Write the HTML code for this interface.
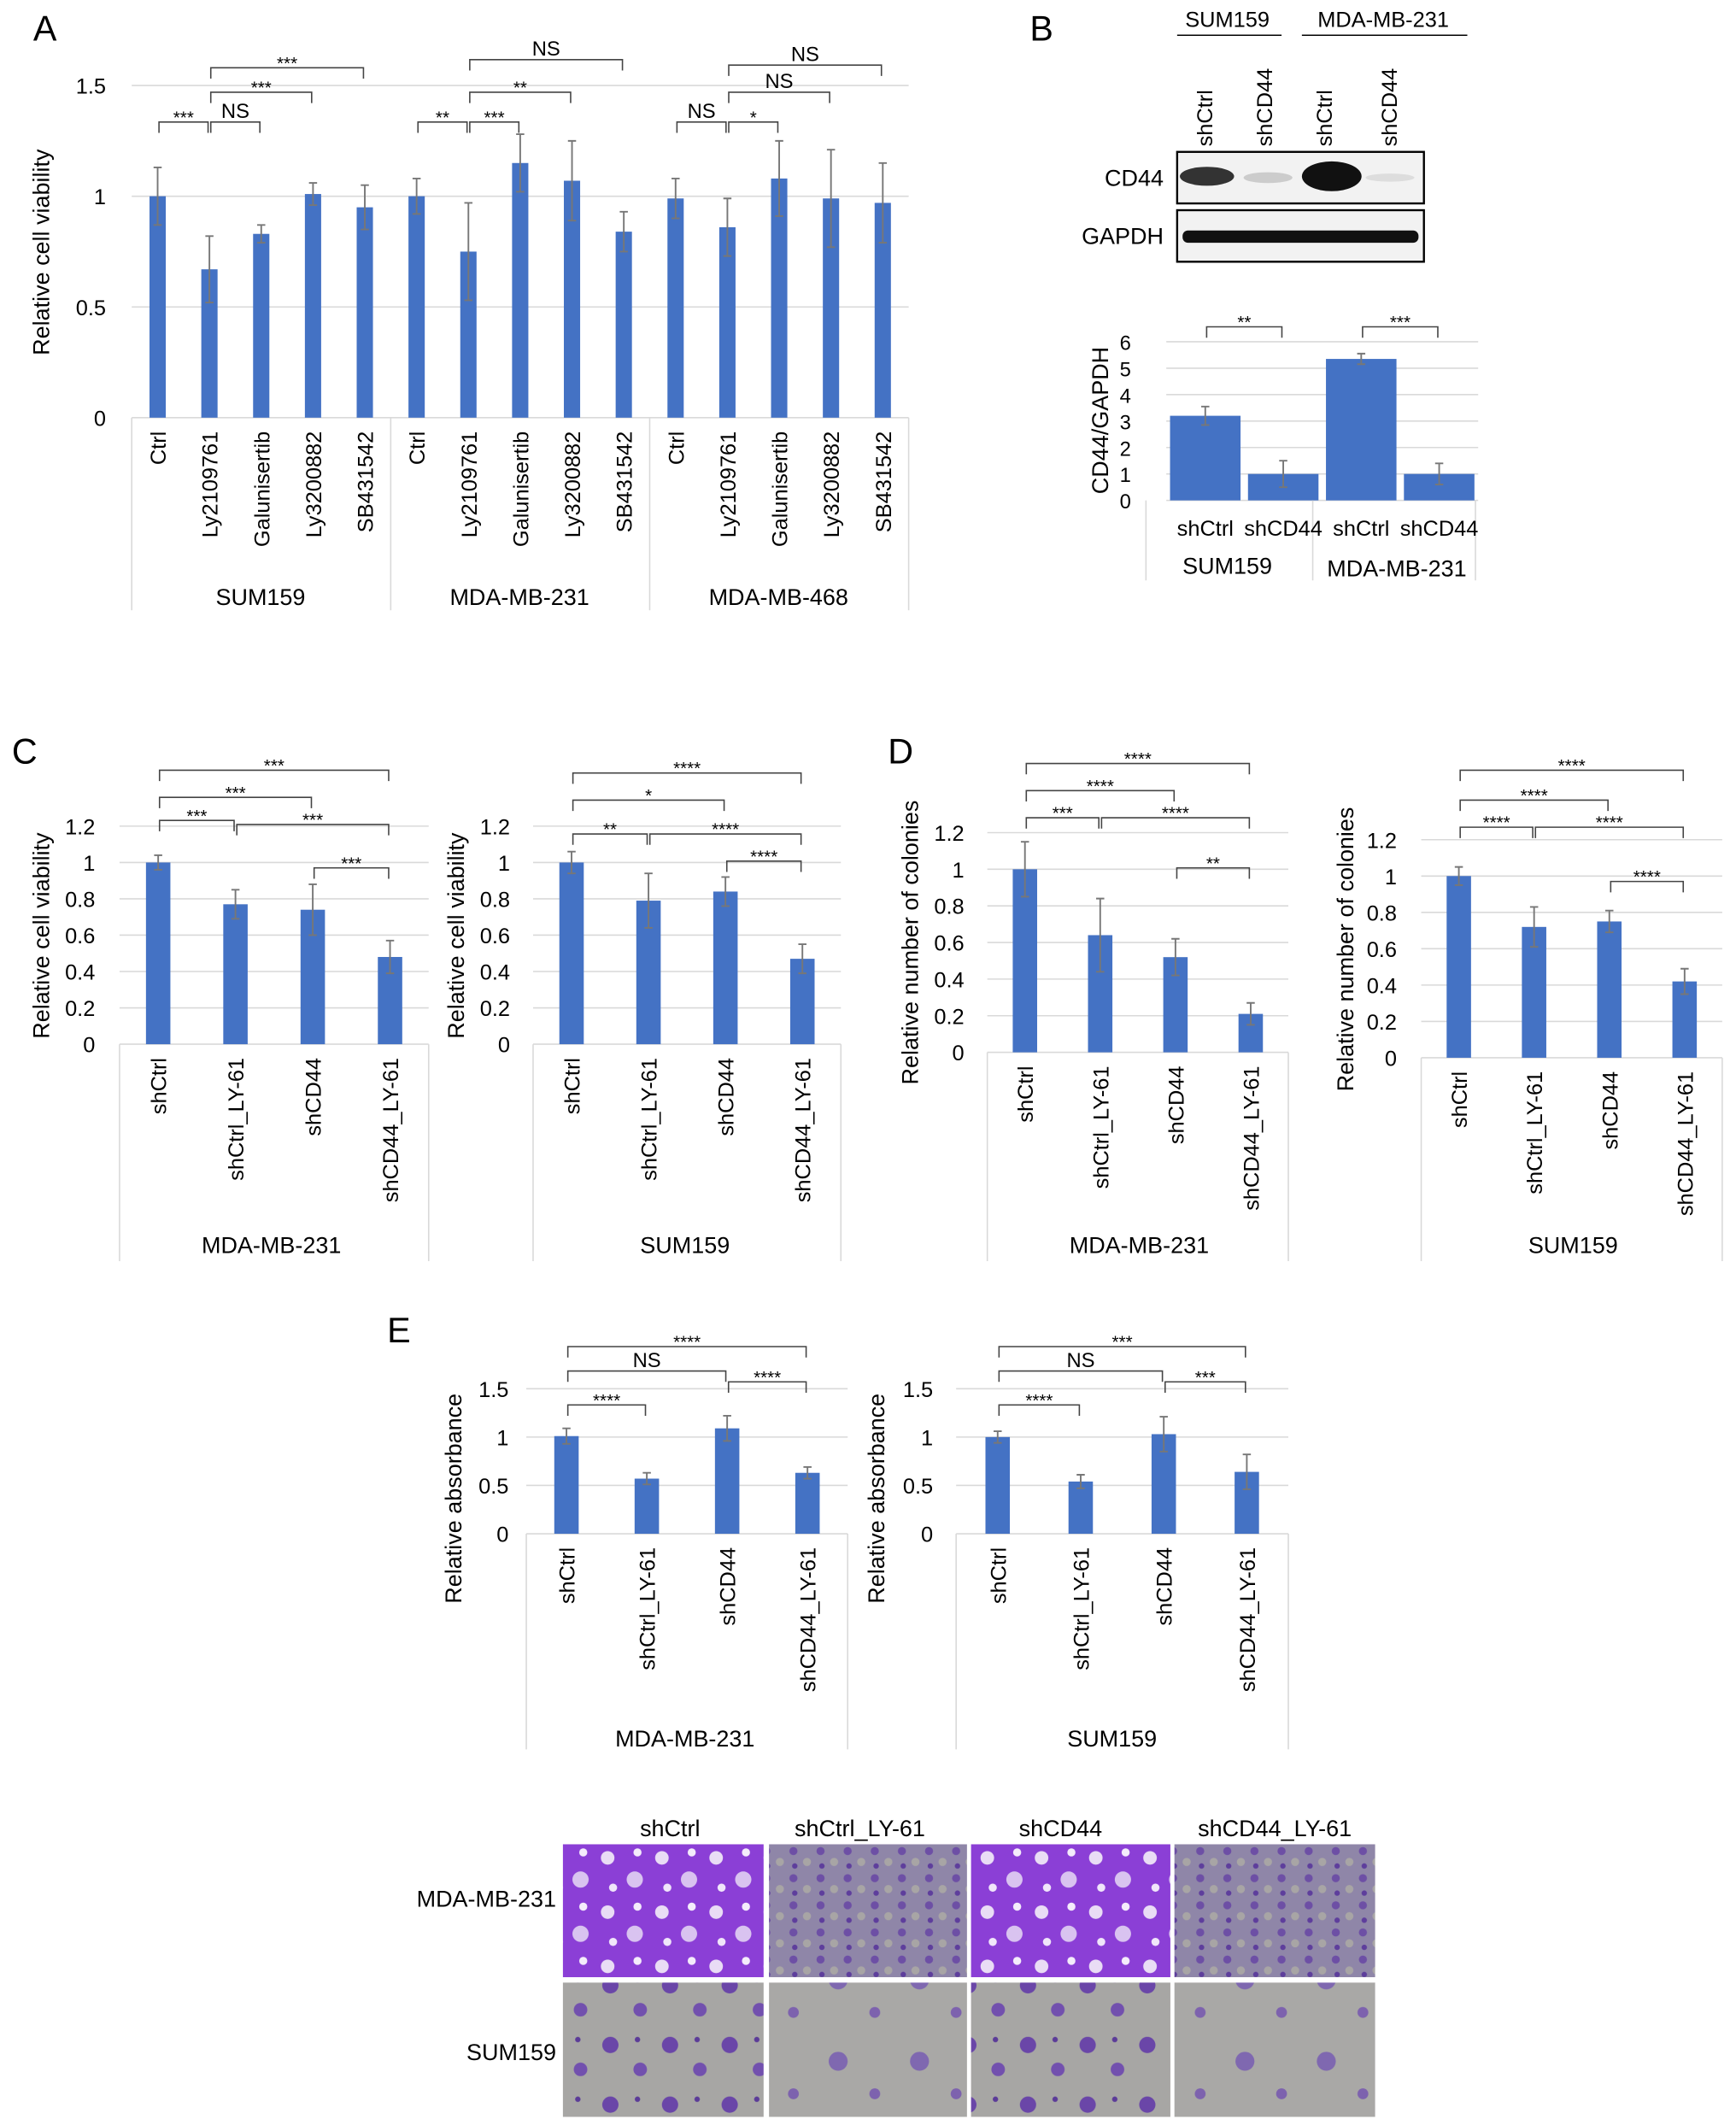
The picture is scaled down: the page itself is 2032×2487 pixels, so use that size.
<!DOCTYPE html>
<html><head><meta charset="utf-8"><style>
html,body{margin:0;padding:0;background:#fff}
svg{display:block;font-family:"Liberation Sans",sans-serif}
</style></head><body>
<svg id="fig" width="2032" height="2487" viewBox="0 0 1280 1567" xmlns="http://www.w3.org/2000/svg">
<defs>
<pattern id="pMda" width="40" height="40" patternUnits="userSpaceOnUse"><rect width="40" height="40" fill="#8b3fd6"/><circle cx="8" cy="10" r="5" fill="#e9dcf5"/><circle cx="28" cy="26" r="6" fill="#d9c3f0"/><circle cx="30" cy="6" r="3" fill="#f4ecfb"/><circle cx="12" cy="32" r="3" fill="#f0e6fa"/></pattern>
<pattern id="pMdaLy" width="20" height="20" patternUnits="userSpaceOnUse"><rect width="20" height="20" fill="#8f86a8"/><circle cx="5" cy="5" r="3" fill="#6d4fa5"/><circle cx="15" cy="13" r="3" fill="#a8a5a5"/><circle cx="6" cy="16" r="2" fill="#5e3e9c"/></pattern>
<pattern id="pSum" width="44" height="44" patternUnits="userSpaceOnUse"><rect width="44" height="44" fill="#a7a6a4"/><circle cx="10" cy="12" r="6" fill="#6a46a8"/><circle cx="32" cy="30" r="5" fill="#7250ae"/><circle cx="30" cy="8" r="2" fill="#5b3b98"/></pattern>
<pattern id="pSumLy" width="60" height="60" patternUnits="userSpaceOnUse"><rect width="60" height="60" fill="#a9a8a6"/><circle cx="18" cy="20" r="7" fill="#7f68b0"/><circle cx="45" cy="44" r="4" fill="#7d62ae"/></pattern>
</defs>
<g id="root"></g>
</svg>
<script>
// ---- Panel A data ----
const aCategories = ["Ctrl","Ly2109761","Galunisertib","Ly3200882","SB431542","Ctrl","Ly2109761","Galunisertib","Ly3200882","SB431542","Ctrl","Ly2109761","Galunisertib","Ly3200882","SB431542"];
const aValues = [1.0,0.67,0.83,1.01,0.95, 1.0,0.75,1.15,1.07,0.84, 0.99,0.86,1.08,0.99,0.97];
const aErrors = [0.13,0.15,0.04,0.05,0.1, 0.08,0.22,0.13,0.18,0.09, 0.09,0.13,0.17,0.22,0.18];
const aTicks = [0,0.5,1,1.5];
const aTickLabels = ["0","0.5","1","1.5"];
const aGroups = ["SUM159","MDA-MB-231","MDA-MB-468"];
// ---- Panel B data ----
const bCategories = ["shCtrl","shCD44","shCtrl","shCD44"];
const bValues = [3.2,1.0,5.35,1.0];
const bErrors = [0.35,0.5,0.2,0.4];
const bTicks = [0,1,2,3,4,5,6];
const bGroups = ["SUM159","MDA-MB-231"];
// ---- Panel C/D/E data ----
const shCategories = ["shCtrl","shCtrl_LY-61","shCD44","shCD44_LY-61"];
const cMdaValues = [1.0,0.77,0.74,0.48];
const cMdaErrors = [0.04,0.08,0.14,0.09];
const cSumValues = [1.0,0.79,0.84,0.47];
const cSumErrors = [0.06,0.15,0.08,0.08];
const dMdaValues = [1.0,0.64,0.52,0.21];
const dMdaErrors = [0.15,0.2,0.1,0.06];
const dSumValues = [1.0,0.72,0.75,0.42];
const dSumErrors = [0.05,0.11,0.06,0.07];
const eMdaValues = [1.01,0.57,1.09,0.63];
const eMdaErrors = [0.08,0.06,0.13,0.06];
const eSumValues = [1.0,0.54,1.03,0.64];
const eSumErrors = [0.06,0.07,0.18,0.18];
const cdTicks = [0,0.2,0.4,0.6,0.8,1,1.2];
const eTicks = [0,0.5,1,1.5];
const NS = "http://www.w3.org/2000/svg";
const root = document.getElementById('root');
function el(tag, attrs, parent, text){
  const e = document.createElementNS(NS, tag);
  for (const k in attrs) e.setAttribute(k, attrs[k]);
  if (text !== undefined) e.textContent = text;
  (parent||root).appendChild(e);
  return e;
}
function txt(x,y,s,size,anchor,parent,rot,name){
  const t = el('text',{x:x,y:y,'font-size':size,'text-anchor':anchor||'middle',fill:'#000'},parent,s);
  if (rot) t.setAttribute('transform','rotate(-90 '+x+' '+y+')');
  
  
  return t;
}
function chart(c){
  const g = el('g',{});
  
  
  const n = c.cats.length, step = (c.x1-c.x0)/n;
  const xc = i => c.x0 + (i+0.5)*step;
  const y = v => c.y0 - v*c.unit;
  c.ticks.forEach((t,i)=>{
    const gl = el('line',{x1:c.x0,x2:c.x1,y1:y(t),y2:y(t),stroke:'#d9d9d9','stroke-width':1},g);
    
    
    txt(c.tickX, y(t)+6, c.tickLabels?c.tickLabels[i]:String(t), c.fs||16, 'end', g, false, 'y-tick-label');
  });
  c.vals.forEach((v,i)=>{
    const b = el('rect',{x:xc(i)-c.bw/2,y:y(v),width:c.bw,height:v*c.unit,fill:'#4472c4'},g);
    
    
    const e = c.errs[i];
    const eb = el('path',{d:`M${xc(i)} ${y(v-e)}V${y(v+e)}M${xc(i)-3} ${y(v+e)}H${xc(i)+3}M${xc(i)-3} ${y(v-e)}H${xc(i)+3}`,stroke:'#777','stroke-width':1.2,fill:'none'},g);
    
    
  });
  // separators
  const seps = c.seps;
  seps.forEach(sx=>{
    const s = el('line',{x1:sx,x2:sx,y1:c.y0,y2:c.sepBottom,stroke:'#d9d9d9','stroke-width':1},g);
    
    
  });
  c.cats.forEach((s,i)=>{
    if (c.horizCats) txt(xc(i), c.y0+26, s, c.catFs||16, 'middle', g, false, 'x-category-label');
    else txt(xc(i)+6, c.y0+10, s, c.catFs||16, 'end', g, true, 'x-category-label');
  });
  c.groups.forEach(gp=> txt(gp[1], gp[2], gp[0], 17, 'middle', g, false, 'group-label'));
  if (c.title) txt(c.title[1], c.title[2], c.title[0], 17, 'middle', g, true, 'y-axis-title');
  (c.brackets||[]).forEach(br=>{
    const [i,j,by,lab] = br;
    const p = el('path',{d:`M${xc(i)+1} ${by+8}V${by}H${xc(j)-1}V${by+8}`,stroke:'#444','stroke-width':1,fill:'none'},g);
    
    
    txt((xc(i)+xc(j))/2, lab==='NS'?by-3:by+1, lab, lab==='NS'?15:13, 'middle', g, false, 'significance-label');
  });
}
// Panel letters
[["A",33,30],["B",768,30],["C",18,563],["D",664,563],["E",294,990]].forEach(p=>txt(p[1],p[2],p[0],26,'middle',root,false,'panel-label-'+p[0].toLowerCase()));

chart({name:'panel-a-chart',cats:aCategories,vals:aValues,errs:aErrors,ticks:aTicks,tickLabels:aTickLabels,x0:97,x1:670,y0:308,unit:163.3,bw:12,tickX:78,
  seps:[97,288,479,670],sepBottom:450,
  groups:[[aGroups[0],192,446],[aGroups[1],383,446],[aGroups[2],574,446]],
  title:['Relative cell viability',36,186],
  brackets:[[0,1,90,'***'],[1,2,90,'NS'],[1,3,68,'***'],[1,4,50,'***'],[5,6,90,'**'],[6,7,90,'***'],[6,8,68,'**'],[6,9,44,'NS'],[10,11,90,'NS'],[11,12,90,'*'],[11,13,68,'NS'],[11,14,48,'NS']]});

chart({name:'panel-b-chart',cats:bCategories,vals:bValues,errs:bErrors,ticks:bTicks,x0:860,x1:1090,y0:369,unit:19.5,bw:52,tickX:834,fs:15,
  seps:[845,968,1088],sepBottom:428,horizCats:true,
  groups:[[bGroups[0],905,423],[bGroups[1],1030,425]],
  title:['CD44/GAPDH',817,310],
  brackets:[[0,1,241,'**'],[2,3,241,'***']]});

chart({name:'panel-c-mda-chart',cats:shCategories,vals:cMdaValues,errs:cMdaErrors,ticks:cdTicks,x0:88,x1:316,y0:770,unit:134,bw:18,tickX:70,
  seps:[88,316],sepBottom:930,groups:[['MDA-MB-231',200,924]],title:['Relative cell viability',36,690],
  brackets:[[0,1,605,'***'],[1,3,608,'***'],[0,2,588,'***'],[0,3,568,'***'],[2,3,640,'***']]});
chart({name:'panel-c-sum-chart',cats:shCategories,vals:cSumValues,errs:cSumErrors,ticks:cdTicks,x0:393,x1:620,y0:770,unit:134,bw:18,tickX:376,
  seps:[393,620],sepBottom:930,groups:[['SUM159',505,924]],title:['Relative cell viability',342,690],
  brackets:[[0,1,615,'**'],[1,3,615,'****'],[0,2,590,'*'],[0,3,570,'****'],[2,3,635,'****']]});
chart({name:'panel-d-mda-chart',cats:shCategories,vals:dMdaValues,errs:dMdaErrors,ticks:cdTicks,x0:728,x1:950,y0:776,unit:135,bw:18,tickX:711,
  seps:[728,950],sepBottom:930,groups:[['MDA-MB-231',840,924]],title:['Relative number of colonies',677,695],
  brackets:[[0,1,603,'***'],[1,3,603,'****'],[0,2,583,'****'],[0,3,563,'****'],[2,3,640,'**']]});
chart({name:'panel-d-sum-chart',cats:shCategories,vals:dSumValues,errs:dSumErrors,ticks:cdTicks,x0:1048,x1:1270,y0:780,unit:134,bw:18,tickX:1030,
  seps:[1048,1270],sepBottom:930,groups:[['SUM159',1160,924]],title:['Relative number of colonies',998,700],
  brackets:[[0,1,610,'****'],[1,3,610,'****'],[0,2,590,'****'],[0,3,568,'****'],[2,3,650,'****']]});
chart({name:'panel-e-mda-chart',cats:shCategories,vals:eMdaValues,errs:eMdaErrors,ticks:eTicks,tickLabels:["0","0.5","1","1.5"],x0:388,x1:625,y0:1131,unit:71.3,bw:18,tickX:375,
  seps:[388,625],sepBottom:1290,groups:[['MDA-MB-231',505,1288]],title:['Relative absorbance',340,1105],
  brackets:[[0,1,1036,'****'],[2,3,1019,'****'],[0,2,1011,'NS'],[0,3,993,'****']]});
chart({name:'panel-e-sum-chart',cats:shCategories,vals:eSumValues,errs:eSumErrors,ticks:eTicks,tickLabels:["0","0.5","1","1.5"],x0:705,x1:950,y0:1131,unit:71.3,bw:18,tickX:688,
  seps:[705,950],sepBottom:1290,groups:[['SUM159',820,1288]],title:['Relative absorbance',652,1105],
  brackets:[[0,1,1036,'****'],[2,3,1019,'***'],[0,2,1011,'NS'],[0,3,993,'***']]});

// Western blot
const wb = el('g',{});


txt(905,20,'SUM159',16,'middle',wb,false,'blot-header');
txt(1020,20,'MDA-MB-231',16,'middle',wb,false,'blot-header');
el('line',{x1:868,x2:945,y1:26,y2:26,stroke:'#000'},wb);
el('line',{x1:960,x2:1082,y1:26,y2:26,stroke:'#000'},wb);
[[894,'shCtrl'],[938,'shCD44'],[982,'shCtrl'],[1030,'shCD44']].forEach(l=>txt(l[0],108,l[1],16,'start',wb,true,'lane-label'));
el('rect',{x:868,y:112,width:182,height:38,fill:'#f2f2f2',stroke:'#000','stroke-width':1.5},wb);
el('rect',{x:868,y:155,width:182,height:38,fill:'#f2f2f2',stroke:'#000','stroke-width':1.5},wb);
el('ellipse',{cx:890,cy:130,rx:20,ry:7,fill:'#333'},wb);
el('ellipse',{cx:935,cy:131,rx:18,ry:4,fill:'#ccc'},wb);
el('ellipse',{cx:982,cy:130,rx:22,ry:11,fill:'#111'},wb);
el('ellipse',{cx:1025,cy:131,rx:18,ry:3,fill:'#ddd'},wb);
el('rect',{x:872,y:170,width:174,height:9,rx:4,fill:'#111'},wb);
txt(858,137,'CD44',17,'end',wb,false,'blot-row-label');
txt(858,180,'GAPDH',17,'end',wb,false,'blot-row-label');

// Microscopy images
const mi = el('g',{});


const colX=[415,567,716,866], colW=[148,146,147,148];
[['shCtrl',494],['shCtrl_LY-61',634],['shCD44',782],['shCD44_LY-61',940]].forEach(h=>txt(h[1],1354,h[0],17,'middle',mi,false,'image-column-header'));
txt(410,1406,'MDA-MB-231',17,'end',mi,false,'image-row-label');
txt(410,1519,'SUM159',17,'end',mi,false,'image-row-label');
const fills=[['url(#pMda)','url(#pMdaLy)','url(#pMda)','url(#pMdaLy)'],['url(#pSum)','url(#pSumLy)','url(#pSum)','url(#pSumLy)']];
[[1360,98],[1462,99]].forEach((r,ri)=>colX.forEach((x,ci)=>{
  const im = el('rect',{x:x,y:r[0],width:colW[ci],height:r[1],fill:fills[ri][ci]},mi);
  
  
}));
</script>
</body></html>
